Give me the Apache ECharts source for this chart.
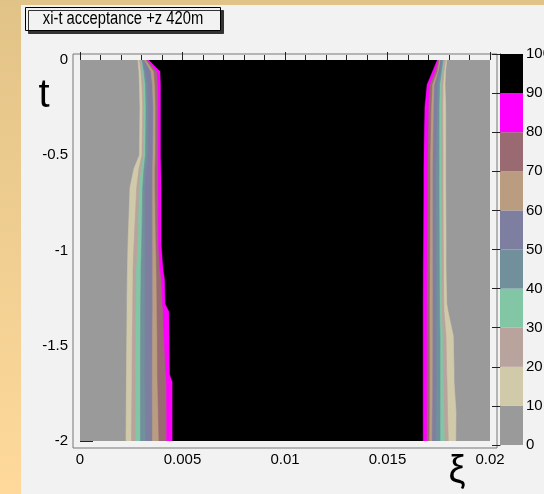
<!DOCTYPE html>
<html>
<head>
<meta charset="utf-8">
<script src="https://cdn.jsdelivr.net/npm/echarts@6.0.0/dist/echarts.min.js"></script>
<style>
  html, body { margin: 0; padding: 0; }
  #main { width: 544px; height: 494px; }
</style>
</head>
<body>
<div id="main"></div>
<script>
var tRows = [0, -0.06, -0.13, -0.25, -0.5, -0.57, -0.67, -0.97, -1.1, -1.15, -1.28, -1.32, -1.45, -1.65, -1.69, -1.85, -2];

// left edges, xi where acceptance reaches 10,20,...,90 %
var leftXi = [
    [0.002829, 0.002902, 0.002976, 0.003024, 0.003073, 0.003146, 0.003220, 0.003293, 0.003366],
    [0.002878, 0.002976, 0.003049, 0.003122, 0.003220, 0.003463, 0.003610, 0.003756, 0.003927],
    [0.002902, 0.003024, 0.003098, 0.003195, 0.003293, 0.003537, 0.003659, 0.003805, 0.003951],
    [0.002927, 0.003059, 0.003122, 0.003220, 0.003332, 0.003576, 0.003693, 0.003820, 0.003951],
    [0.002902, 0.003024, 0.003098, 0.003195, 0.003317, 0.003561, 0.003683, 0.003820, 0.003951],
    [0.002634, 0.002878, 0.003000, 0.003122, 0.003244, 0.003546, 0.003659, 0.003820, 0.003966],
    [0.002439, 0.002766, 0.002893, 0.003059, 0.003171, 0.003546, 0.003659, 0.003820, 0.003985],
    [0.002341, 0.002634, 0.002829, 0.003010, 0.003171, 0.003546, 0.003707, 0.003829, 0.003985],
    [0.002317, 0.002585, 0.002756, 0.002976, 0.003171, 0.003546, 0.003732, 0.003902, 0.004073],
    [0.002307, 0.002585, 0.002746, 0.002976, 0.003171, 0.003546, 0.003741, 0.003976, 0.004146],
    [0.002293, 0.002571, 0.002732, 0.002961, 0.003171, 0.003546, 0.003756, 0.004024, 0.004171],
    [0.002293, 0.002571, 0.002732, 0.002961, 0.003171, 0.003546, 0.003756, 0.004063, 0.004356],
    [0.002283, 0.002551, 0.002722, 0.002956, 0.003171, 0.003537, 0.003771, 0.004098, 0.004376],
    [0.002268, 0.002537, 0.002707, 0.002951, 0.003171, 0.003527, 0.003780, 0.004195, 0.004390],
    [0.002263, 0.002537, 0.002707, 0.002951, 0.003171, 0.003527, 0.003790, 0.004220, 0.004522],
    [0.002254, 0.002522, 0.002707, 0.002951, 0.003195, 0.003532, 0.003820, 0.004229, 0.004522],
    [0.002244, 0.002512, 0.002707, 0.002951, 0.003220, 0.003537, 0.003854, 0.004229, 0.004522]
];

// right edges, xi where acceptance drops to 90,80,...,10 %
var rightXi = [
    [0.017400, 0.017463, 0.017512, 0.017561, 0.017634, 0.017707, 0.017756, 0.017829, 0.017888],
    [0.017171, 0.017317, 0.017415, 0.017463, 0.017561, 0.017634, 0.017683, 0.017756, 0.017829],
    [0.016902, 0.017049, 0.017171, 0.017268, 0.017415, 0.017537, 0.017610, 0.017707, 0.017805],
    [0.016795, 0.016990, 0.017122, 0.017234, 0.017400, 0.017512, 0.017610, 0.017693, 0.017839],
    [0.016756, 0.016951, 0.017073, 0.017195, 0.017366, 0.017512, 0.017610, 0.017707, 0.017839],
    [0.016746, 0.016941, 0.017073, 0.017185, 0.017351, 0.017512, 0.017610, 0.017707, 0.017839],
    [0.016746, 0.016941, 0.017073, 0.017185, 0.017351, 0.017512, 0.017610, 0.017707, 0.017839],
    [0.016732, 0.016927, 0.017059, 0.017185, 0.017356, 0.017522, 0.017620, 0.017722, 0.017854],
    [0.016722, 0.016917, 0.017049, 0.017185, 0.017366, 0.017527, 0.017624, 0.017732, 0.017854],
    [0.016722, 0.016917, 0.017049, 0.017185, 0.017366, 0.017527, 0.017624, 0.017732, 0.017863],
    [0.016717, 0.016912, 0.017039, 0.017185, 0.017366, 0.017537, 0.017634, 0.017746, 0.017888],
    [0.016717, 0.016912, 0.017039, 0.017185, 0.017366, 0.017537, 0.017634, 0.017756, 0.017951],
    [0.016717, 0.016912, 0.017039, 0.017185, 0.017366, 0.017561, 0.017683, 0.017854, 0.018210],
    [0.016717, 0.016912, 0.017039, 0.017180, 0.017366, 0.017561, 0.017707, 0.017888, 0.018244],
    [0.016717, 0.016912, 0.017039, 0.017180, 0.017366, 0.017561, 0.017717, 0.017902, 0.018244],
    [0.016717, 0.016907, 0.017034, 0.017171, 0.017356, 0.017561, 0.017746, 0.017927, 0.018341],
    [0.016717, 0.016902, 0.017024, 0.017156, 0.017351, 0.017561, 0.017771, 0.017966, 0.018327]
];

// contour levels (%) and palette, bottom to top
var levels = [0, 10, 20, 30, 40, 50, 60, 70, 80, 90];
var levelColors = ['#9a9a9a', '#d1caaa', '#b9a39d', '#82c6a6', '#71909b', '#7e7fa0', '#ba9c80', '#996a72', '#ff00ff', '#000000'];

var xiRange = [0, 0.02];
var tRange = [-2, 0];

var FONT = '"Liberation Sans", Arial, sans-serif';

var myChart = echarts.init(document.getElementById('main'));

function contourItem(params, api) {
    var k = api.value(0);
    var pts = [];
    if (k === 0) {
        pts = [
            api.coord([xiRange[0], tRange[1]]),
            api.coord([xiRange[1], tRange[1]]),
            api.coord([xiRange[1], tRange[0]]),
            api.coord([xiRange[0], tRange[0]])
        ];
    } else {
        for (var i = 0; i < tRows.length; i++) {
            pts.push(api.coord([leftXi[i][k - 1], tRows[i]]));
        }
        for (var j = tRows.length - 1; j >= 0; j--) {
            pts.push(api.coord([rightXi[j][9 - k], tRows[j]]));
        }
    }
    return {
        type: 'polygon',
        shape: { points: pts },
        style: { fill: levelColors[k], stroke: levelColors[k], lineWidth: 0.6 }
    };
}

function paletteItem(params, api) {
    var k = api.value(0);
    var p0 = api.coord([0, levels[k] + 10]);
    var p1 = api.coord([1, levels[k]]);
    return {
        type: 'rect',
        shape: { x: p0[0], y: p0[1], width: p1[0] - p0[0], height: p1[1] - p0[1] },
        style: { fill: levelColors[k] }
    };
}

var levelIdx = levels.map(function (v, i) { return i; });

var option = {
    backgroundColor: '#f2f2f2',
    animation: false,
    grid: [
        { left: 80, top: 60, width: 410, height: 381, outerBoundsMode: 'none' },
        { left: 500, top: 54, width: 23, height: 391, outerBoundsMode: 'none' }
    ],
    xAxis: [{
        gridIndex: 0,
        type: 'value',
        min: 0,
        max: 0.02,
        interval: 0.005,
        offset: 7,
        axisLine: { show: false },
        axisTick: { inside: true, length: 8, lineStyle: { color: '#222' } },
        minorTick: { show: true, splitNumber: 5, length: 5, lineStyle: { color: '#222' } },
        splitLine: { show: false },
        axisLabel: { color: '#000', fontSize: 15, fontFamily: FONT, margin: 4 }
    }, {
        gridIndex: 1,
        type: 'value',
        min: 0,
        max: 1,
        show: false
    }],
    yAxis: [{
        gridIndex: 0,
        type: 'value',
        min: -2,
        max: 0,
        interval: 0.5,
        offset: 7,
        axisLine: { show: false },
        axisTick: { inside: true, length: 13, lineStyle: { color: '#222' } },
        minorTick: { show: true, splitNumber: 5, length: 7, lineStyle: { color: '#222' } },
        splitLine: { show: false },
        axisLabel: { color: '#000', fontSize: 15, fontFamily: FONT, margin: 5 }
    }, {
        gridIndex: 1,
        type: 'value',
        position: 'right',
        min: 0,
        max: 100,
        interval: 10,
        axisLine: { show: true, lineStyle: { color: '#222' } },
        axisTick: { inside: true, length: 8, lineStyle: { color: '#222' } },
        splitLine: { show: false },
        axisLabel: { color: '#000', fontSize: 15, fontFamily: FONT, margin: 3 }
    }],
    graphic: [
        {
            type: 'rect', z: 100,
            shape: { x: 0, y: 0, width: 21, height: 494 },
            style: {
                fill: new echarts.graphic.LinearGradient(0, 0, 0, 1, [
                    { offset: 0, color: '#e2c387' }, { offset: 1, color: '#fed99b' }
                ])
            }
        },
        { type: 'rect', z: 100, shape: { x: 0, y: 0, width: 544, height: 5 }, style: { fill: '#e2c387' } },
        { type: 'rect', shape: { x: 73, y: 54, width: 424, height: 394 }, style: { fill: 'none', stroke: '#777', lineWidth: 1 } },
        {
            type: 'rect', z: 100,
            shape: { x: 25.5, y: 7.5, width: 195, height: 23 },
            style: { fill: '#f2f2f2', stroke: '#000', lineWidth: 1, shadowColor: '#333', shadowOffsetX: 3, shadowOffsetY: 3, shadowBlur: 0 }
        },
        {
            type: 'text', z: 101, x: 123, y: 19, scaleX: 0.82,
            style: { text: 'xi-t acceptance +z 420m', font: '18px ' + FONT, fill: '#000', align: 'center', verticalAlign: 'middle' }
        },
        {
            type: 'text', z: 101, x: 44, y: 96,
            style: { text: 't', font: '40px "Liberation Sans", sans-serif', fill: '#000', align: 'center', verticalAlign: 'middle' }
        },
        {
            type: 'text', z: 101, x: 457, y: 472,
            style: { text: 'ξ', font: '38px "Liberation Sans", sans-serif', fill: '#000', align: 'center', verticalAlign: 'middle' }
        }
    ],
    series: [{
        type: 'custom',
        xAxisIndex: 0,
        yAxisIndex: 0,
        renderItem: contourItem,
        data: levelIdx,
        clip: true
    }, {
        type: 'custom',
        xAxisIndex: 1,
        yAxisIndex: 1,
        renderItem: paletteItem,
        data: levelIdx
    }]
};

myChart.setOption(option);
</script>
</body>
</html>
